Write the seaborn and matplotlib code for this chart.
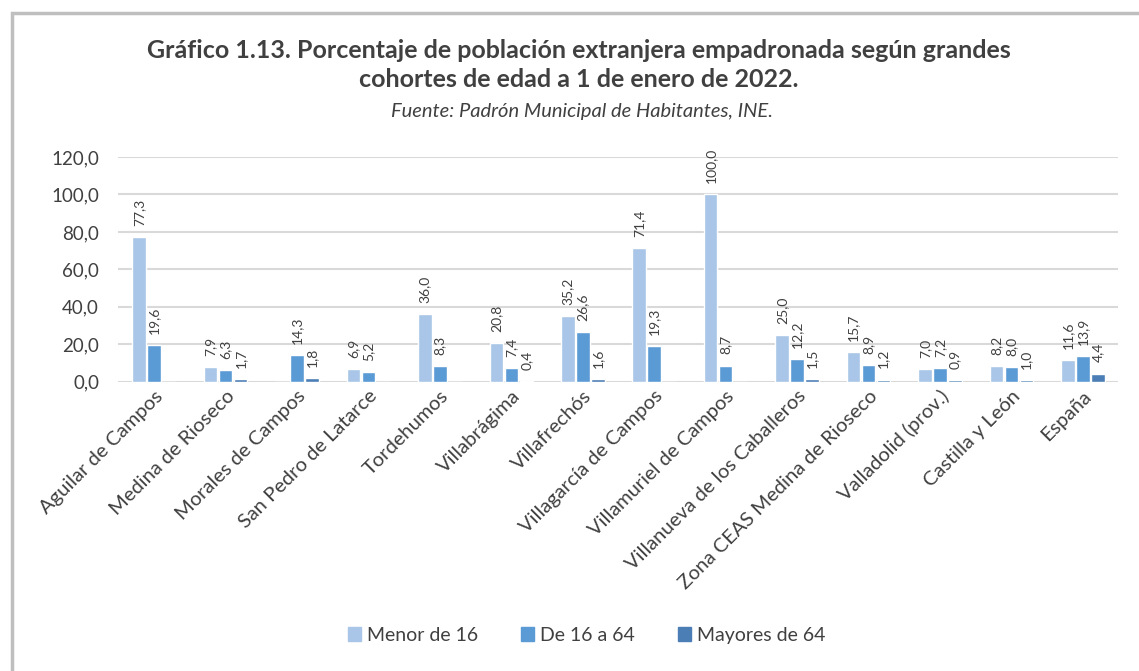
import matplotlib
matplotlib.use("Agg")
import matplotlib.pyplot as plt
import matplotlib.patches as mpatches
from matplotlib.ticker import FuncFormatter
import seaborn as sns
import pandas as pd

municipios = [
    "Aguilar de Campos", "Medina de Rioseco", "Morales de Campos",
    "San Pedro de Latarce", "Tordehumos", "Villabrágima", "Villafrechós",
    "Villagarcía de Campos", "Villamuriel de Campos",
    "Villanueva de los Caballeros", "Zona CEAS Medina de Rioseco",
    "Valladolid (prov.)", "Castilla y León", "España",
]
cohortes = ["Menor de 16", "De 16 a 64", "Mayores de 64"]

menor_16 = [77.3, 7.9, 0.0, 6.9, 36.0, 20.8, 35.2, 71.4, 100.0, 25.0, 15.7, 7.0, 8.2, 11.6]
de_16_64 = [19.6, 6.3, 14.3, 5.2, 8.3, 7.4, 26.6, 19.3, 8.7, 12.2, 8.9, 7.2, 8.0, 13.9]
mayores_64 = [0.0, 1.7, 1.8, 0.0, 0.0, 0.4, 1.6, 0.0, 0.0, 1.5, 1.2, 0.9, 1.0, 4.4]

colores = ["#A9C5E7", "#5B9BD5", "#4A7EB4"]

df = pd.DataFrame({
    "municipio": municipios * 3,
    "cohorte": [c for c in cohortes for _ in municipios],
    "valor": menor_16 + de_16_64 + mayores_64,
})

sns.set_theme(style="white")
plt.rcParams["font.family"] = ["Lato", "DejaVu Sans"]

fig = plt.figure(figsize=(11.39, 6.71), dpi=100)
ax = fig.add_axes([0.104, 0.431, 0.878, 0.335])

sns.barplot(data=df, x="municipio", y="valor", hue="cohorte",
            hue_order=cohortes, palette=colores, width=0.63, gap=0.1,
            saturation=1, ax=ax, legend=False)

# etiquetas verticales, sin los ceros
for cont in ax.containers:
    etiquetas = [f"{b.get_height():.1f}".replace(".", ",") if b.get_height() > 0 else ""
                 for b in cont]
    ax.bar_label(cont, labels=etiquetas, rotation=90, padding=8,
                 fontsize=10, color="#404040")

ax.set_ylim(0, 120)
ax.set_yticks(range(0, 121, 20))
ax.yaxis.set_major_formatter(FuncFormatter(lambda v, p: f"{v:.1f}".replace(".", ",")))
ax.grid(axis="y", color="#D9D9D9", lw=1.5)
ax.set_axisbelow(True)
for s in ax.spines.values():
    s.set_visible(False)
ax.set_xlabel("")
ax.set_ylabel("")
ax.tick_params(axis="y", labelsize=13.5, labelcolor="#404040", pad=14, length=0)
ax.tick_params(axis="x", labelsize=14.5, labelcolor="#404040", pad=4, length=0)
plt.setp(ax.get_xticklabels(), rotation=45, ha="right", rotation_mode="anchor")

fig.text(0.508, 0.925, "Gráfico 1.13. Porcentaje de población extranjera empadronada según grandes",
         ha="center", va="center", fontsize=18, fontweight="bold", color="#404040")
fig.text(0.508, 0.881, "cohortes de edad a 1 de enero de 2022.",
         ha="center", va="center", fontsize=18, fontweight="bold", color="#404040")
fig.text(0.511, 0.834, "Fuente: Padrón Municipal de Habitantes, INE.",
         ha="center", va="center", fontsize=14.5, style="italic", color="#404040")

handles = [mpatches.Patch(color=c, label=l) for c, l in zip(colores, cohortes)]
fig.legend(handles=handles, loc="center", bbox_to_anchor=(0.515, 0.053), ncol=3,
           frameon=False, fontsize=14, handlelength=0.7, handleheight=0.7,
           handletextpad=0.3, columnspacing=2.2, labelcolor="#404040")

marco = mpatches.Rectangle((12 / 1139, -0.1), 1.2, 1.1 - 13 / 671,
                           transform=fig.transFigure, fill=False,
                           edgecolor="#BFBFBF", lw=2.5)
fig.add_artist(marco)

fig.savefig("out.png", dpi=100)
plt.close()
